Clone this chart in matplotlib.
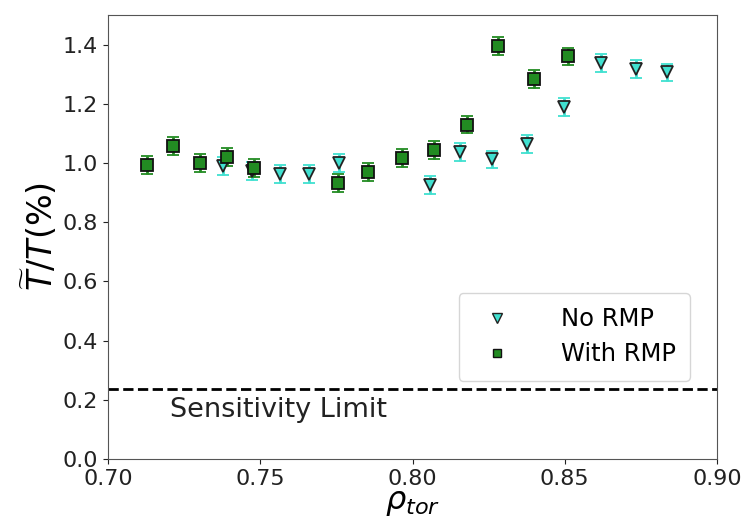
import matplotlib
matplotlib.use('Agg')
import matplotlib.pyplot as plt
from matplotlib.lines import Line2D

# No RMP (triangles)
rho_no = [0.7377, 0.7472, 0.7566, 0.7659, 0.7759, 0.8057, 0.8157, 0.8260,
          0.8376, 0.8498, 0.8618, 0.8734, 0.8837]
amp_no = [0.990, 0.973, 0.962, 0.962, 0.999, 0.925, 1.038, 1.012,
          1.065, 1.189, 1.338, 1.318, 1.306]
err_no = [0.03] * len(rho_no)

# With RMP (squares)
rho_rmp = [0.7127, 0.7212, 0.7302, 0.7392, 0.7480, 0.7754, 0.7853, 0.7964,
           0.8072, 0.8179, 0.8282, 0.8399, 0.8510]
amp_rmp = [0.993, 1.057, 1.001, 1.020, 0.984, 0.932, 0.970, 1.016,
           1.043, 1.130, 1.396, 1.285, 1.360]
err_rmp = [0.03] * len(rho_rmp)

sens_limit = 0.235

fig = plt.figure(figsize=(7.43, 5.19), dpi=100)
ax = fig.add_axes([0.1454, 0.1156, 0.8196, 0.8554])

ax.errorbar(rho_no, amp_no, yerr=err_no, fmt='v', color='turquoise',
            markerfacecolor='turquoise', markeredgecolor='#222222', markersize=8.5,
            markeredgewidth=1.3, ecolor='turquoise', elinewidth=2, capsize=4, capthick=2.5)
ax.errorbar(rho_rmp, amp_rmp, yerr=err_rmp, fmt='s', color='forestgreen',
            markerfacecolor='forestgreen', markeredgecolor='#111111', markersize=8.5,
            markeredgewidth=1.3, ecolor='forestgreen', elinewidth=2, capsize=4, capthick=2.5)

ax.axhline(sens_limit, color='black', linestyle='--', linewidth=2)
ax.text(0.7204, 0.165, 'Sensitivity Limit', fontsize=19.5, color='#222222', va='center')

ax.set_xlim(0.70, 0.90)
ax.set_ylim(0, 1.5)
ax.set_xticks([0.70, 0.75, 0.80, 0.85, 0.90])
ax.set_yticks([0.0, 0.2, 0.4, 0.6, 0.8, 1.0, 1.2, 1.4])
ax.tick_params(labelsize=16, colors='#222222')
for s in ax.spines.values():
    s.set_color('#555555')

ax.set_xlabel(r'$\rho_{tor}$', fontsize=23, labelpad=-1)
ax.set_ylabel(r'$\widetilde{T}/T(\%)$', fontsize=24, labelpad=2)

handles = [
    Line2D([], [], marker='v', linestyle='none', markerfacecolor='turquoise',
           markeredgecolor='#222222', markersize=7),
    Line2D([], [], marker='s', linestyle='none', markerfacecolor='forestgreen',
           markeredgecolor='#111111', markersize=6),
]
ax.legend(handles, ['No RMP', 'With RMP'], fontsize=17.5, loc='lower right',
          bbox_to_anchor=(0.956, 0.176), borderaxespad=0, handletextpad=1.6,
          borderpad=0.6, labelspacing=0.45)

fig.savefig('out.png', dpi=100)
